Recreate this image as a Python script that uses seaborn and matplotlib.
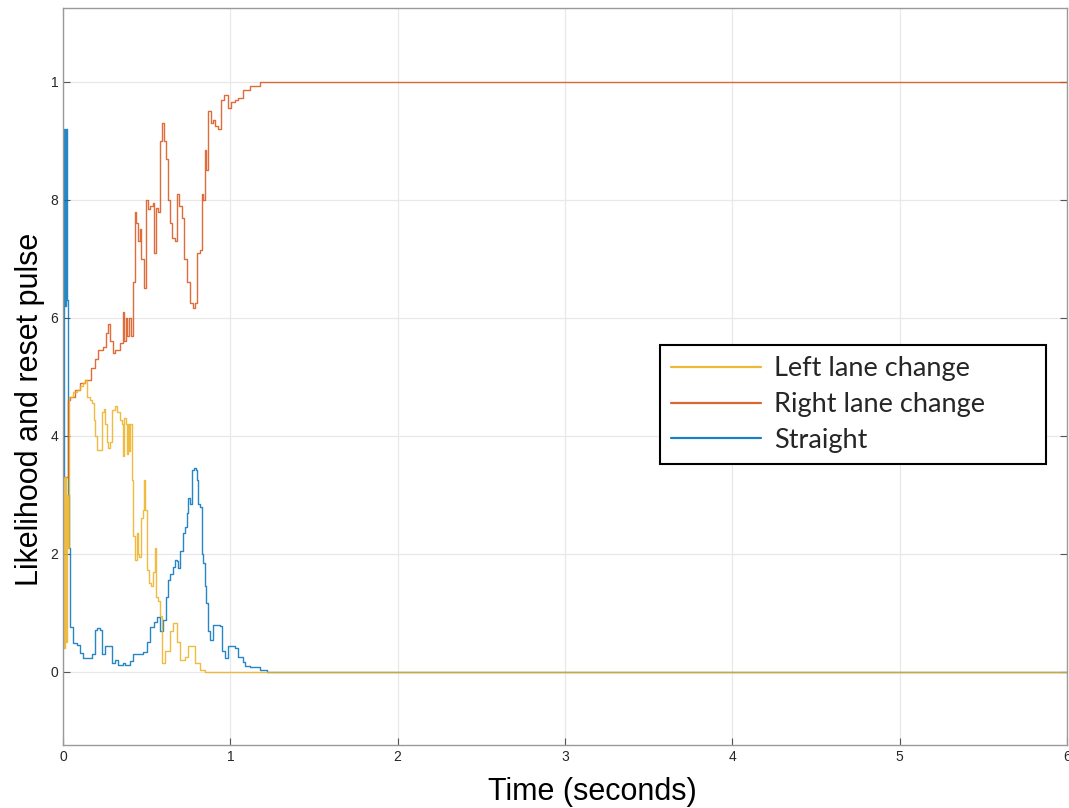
import numpy as np
import pandas as pd
import matplotlib
matplotlib.use("Agg")
import matplotlib.pyplot as plt
import seaborn as sns

# values (time in seconds, likelihood)
left_t = [0.000, 0.006, 0.012, 0.018, 0.024, 0.030, 0.036, 0.060, 0.084, 0.102,
          0.120, 0.131, 0.143, 0.161, 0.173, 0.185, 0.191, 0.203, 0.215, 0.233,
          0.245, 0.251, 0.263, 0.269, 0.281, 0.293, 0.311, 0.323, 0.341, 0.353,
          0.359, 0.365, 0.377, 0.383, 0.389, 0.395, 0.400, 0.412, 0.418, 0.430,
          0.442, 0.448, 0.454, 0.466, 0.478, 0.484, 0.490, 0.502, 0.514, 0.526,
          0.538, 0.550, 0.556, 0.568, 0.580, 0.592, 0.610, 0.640, 0.658, 0.669,
          0.681, 0.699, 0.729, 0.747, 0.771, 0.789, 0.819, 0.850, 6.000]
left_v = [0.33, 0.04, 0.33, 0.05, 0.30, 0.21, 0.466, 0.475, 0.478, 0.485,
          0.490, 0.495, 0.466, 0.460, 0.456, 0.427, 0.400, 0.376, 0.376, 0.440,
          0.445, 0.420, 0.390, 0.380, 0.390, 0.444, 0.450, 0.440, 0.427, 0.420,
          0.365, 0.430, 0.420, 0.370, 0.420, 0.375, 0.420, 0.325, 0.230, 0.190,
          0.235, 0.200, 0.195, 0.260, 0.275, 0.325, 0.275, 0.173, 0.150, 0.145,
          0.170, 0.210, 0.127, 0.120, 0.094, 0.015, 0.035, 0.070, 0.083, 0.083,
          0.050, 0.020, 0.025, 0.043, 0.043, 0.015, 0.003, 0.000, 0.000]

right_t = [0.000, 0.030, 0.042, 0.072, 0.102, 0.131, 0.167, 0.191, 0.209, 0.239,
           0.257, 0.269, 0.281, 0.299, 0.311, 0.341, 0.359, 0.365, 0.377, 0.383,
           0.395, 0.406, 0.418, 0.430, 0.436, 0.448, 0.460, 0.466, 0.478, 0.484,
           0.496, 0.508, 0.520, 0.538, 0.544, 0.556, 0.568, 0.580, 0.592, 0.604,
           0.616, 0.628, 0.640, 0.652, 0.669, 0.681, 0.693, 0.711, 0.723, 0.741,
           0.759, 0.777, 0.789, 0.801, 0.819, 0.831, 0.837, 0.849, 0.855, 0.867,
           0.885, 0.897, 0.909, 0.926, 0.944, 0.962, 0.986, 1.004, 1.028, 1.046,
           1.076, 1.118, 1.178, 6.000]
right_v = [0.33, 0.46, 0.466, 0.478, 0.490, 0.495, 0.515, 0.530, 0.546, 0.550,
           0.575, 0.590, 0.560, 0.540, 0.545, 0.557, 0.610, 0.560, 0.600, 0.570,
           0.600, 0.570, 0.660, 0.780, 0.760, 0.730, 0.750, 0.700, 0.700, 0.650,
           0.800, 0.785, 0.790, 0.795, 0.710, 0.786, 0.780, 0.900, 0.930, 0.900,
           0.870, 0.800, 0.760, 0.735, 0.730, 0.810, 0.790, 0.770, 0.700, 0.660,
           0.625, 0.617, 0.625, 0.710, 0.715, 0.810, 0.800, 0.885, 0.850, 0.950,
           0.930, 0.935, 0.925, 0.920, 0.970, 0.978, 0.955, 0.965, 0.970, 0.972,
           0.986, 0.993, 1.000, 1.000]

straight_t = [0.000, 0.006, 0.012, 0.018, 0.024, 0.030, 0.036, 0.042, 0.060, 0.084,
              0.102, 0.120, 0.161, 0.173, 0.191, 0.203, 0.221, 0.233, 0.251, 0.281,
              0.293, 0.311, 0.329, 0.359, 0.371, 0.400, 0.418, 0.442, 0.478, 0.502,
              0.520, 0.544, 0.562, 0.580, 0.598, 0.616, 0.628, 0.640, 0.658, 0.669,
              0.681, 0.687, 0.699, 0.717, 0.729, 0.741, 0.747, 0.759, 0.771, 0.783,
              0.795, 0.801, 0.807, 0.819, 0.831, 0.837, 0.849, 0.855, 0.867, 0.879,
              0.897, 0.938, 0.950, 0.968, 0.986, 1.028, 1.046, 1.076, 1.088, 1.118,
              1.178, 1.219, 6.000]
straight_v = [0.33, 0.92, 0.62, 0.92, 0.63, 0.30, 0.21, 0.076, 0.049, 0.045,
              0.032, 0.023, 0.023, 0.030, 0.071, 0.075, 0.071, 0.030, 0.043, 0.043,
              0.015, 0.020, 0.012, 0.015, 0.012, 0.018, 0.030, 0.030, 0.034, 0.050,
              0.076, 0.085, 0.093, 0.070, 0.088, 0.127, 0.155, 0.165, 0.178, 0.190,
              0.188, 0.176, 0.205, 0.235, 0.245, 0.270, 0.295, 0.285, 0.342, 0.345,
              0.342, 0.325, 0.285, 0.280, 0.200, 0.185, 0.145, 0.117, 0.070, 0.054,
              0.080, 0.078, 0.035, 0.024, 0.043, 0.040, 0.025, 0.017, 0.010, 0.008,
              0.003, 0.000, 0.000]

series_names = ["Left lane change", "Right lane change", "Straight"]
series_colors = ["#EDB120", "#D95319", "#0072BD"]
x_ticks = [0, 1, 2, 3, 4, 5, 6]
y_ticks = [0, 0.2, 0.4, 0.6, 0.8, 1.0]
y_tick_labels = ["0", "2", "4", "6", "8", "1"]

series_data = {
    "Left lane change": (left_t, left_v),
    "Right lane change": (right_t, right_v),
    "Straight": (straight_t, straight_v),
}

sns.set_theme(style="white")
plt.rcParams["font.family"] = ["Liberation Sans", "DejaVu Sans"]

fig = plt.figure(figsize=(10.69, 8.08), dpi=100)
ax = fig.add_axes([0.059, 0.078, 0.939, 0.912])

# blue first, yellow last so the zero baseline shows yellow like the original
for name in ["Straight", "Right lane change", "Left lane change"]:
    t, v = series_data[name]
    df = pd.DataFrame({"time": t, "value": v})
    color = series_colors[series_names.index(name)]
    sns.lineplot(data=df, x="time", y="value", color=color, label=name,
                 estimator=None, sort=False, drawstyle="steps-post",
                 linewidth=1.0, alpha=0.85, ax=ax)

ax.set_xlim(0, 6)
ax.set_ylim(-0.124, 1.125)
ax.set_xticks(x_ticks)
ax.set_xticklabels([str(x) for x in x_ticks])
ax.set_yticks(y_ticks)
ax.set_yticklabels(y_tick_labels)
ax.grid(True, color="#e8e8e8", linewidth=0.9)
ax.tick_params(direction="in", length=5, width=0.8, colors="#555555",
               labelcolor="#262626", labelsize=10, top=False, right=True,
               left=True, bottom=True)
for sp in ax.spines.values():
    sp.set_color("#9a9a9a")
    sp.set_linewidth(1.0)

ax.set_xlabel("Time (seconds)", fontsize=22, color="black")
ax.set_ylabel("Likelihood and reset pulse", fontsize=22, color="black")
ax.xaxis.set_label_coords(0.527, -0.043)
ax.yaxis.set_label_coords(-0.018, 0.456)

handles, labels = ax.get_legend_handles_labels()
order = [labels.index(n) for n in series_names]
leg = ax.legend([handles[i] for i in order], [labels[i] for i in order],
                loc="upper left", bbox_to_anchor=(0.5946, 0.379, 0.3845, 0.164),
                mode="expand", frameon=True, fancybox=False, framealpha=1,
                edgecolor="black", handlelength=3.3, handletextpad=0.5,
                borderpad=0.42, borderaxespad=0.0, labelspacing=0.4,
                prop={"family": ["Lato", "DejaVu Sans"], "size": 19.5})
leg.get_frame().set_linewidth(1.5)
for line in leg.get_lines():
    line.set_linewidth(1.6)
    line.set_alpha(0.9)

fig.savefig("out.png", dpi=100)
